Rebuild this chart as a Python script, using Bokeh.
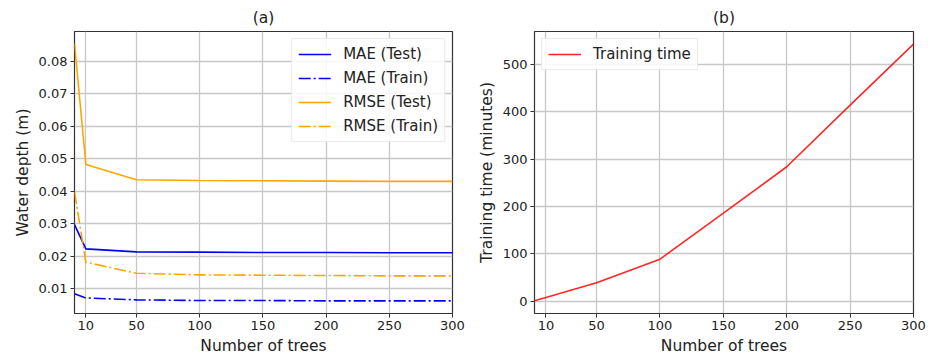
from bokeh.plotting import figure
from bokeh.layouts import row
from bokeh.models import FixedTicker, Range1d, Legend, LegendItem
from bokeh.embed import file_html
from bokeh.resources import INLINE

trees = [1, 10, 50, 100, 150, 200, 250, 300]
mae_test = [0.0297, 0.0222, 0.0213, 0.0212, 0.0211, 0.0211, 0.0210, 0.0210]
mae_train = [0.0084, 0.0071, 0.0065, 0.0063, 0.0063, 0.0062, 0.0062, 0.0062]
rmse_test = [0.0855, 0.0482, 0.0435, 0.0433, 0.0432, 0.0431, 0.0430, 0.0430]
rmse_train = [0.0397, 0.0181, 0.0147, 0.0142, 0.0141, 0.0140, 0.0139, 0.0139]
train_time = [1, 8, 39, 89, 186, 284, 414, 543]

x_ticks = [10, 50, 100, 150, 200, 250, 300]
y_ticks_a = [0.01, 0.02, 0.03, 0.04, 0.05, 0.06, 0.07, 0.08]
y_ticks_b = [0, 100, 200, 300, 400, 500]

FONT = "DejaVu Sans"
TXT = "#222222"
GRID = "#c8c8c8"
DASHDOT = "12 3 2 3"


def style(p, xlabel, ylabel, yticks, yfmt):
    p.title.text_font = FONT
    p.title.text_font_size = "15.5px"
    p.title.text_font_style = "normal"
    p.title.align = "center"
    p.title.text_color = TXT
    p.outline_line_color = "#333333"
    p.outline_line_width = 1.2
    for ax in (p.xaxis[0], p.yaxis[0]):
        ax.axis_line_color = None
        ax.major_tick_line_color = "#333333"
        ax.major_tick_out = 4
        ax.major_tick_in = 0
        ax.minor_tick_line_color = None
        ax.major_label_text_font = FONT
        ax.major_label_text_font_size = "13px"
        ax.major_label_text_color = TXT
        ax.axis_label_text_font = FONT
        ax.axis_label_text_font_size = "15.5px"
        ax.axis_label_text_font_style = "normal"
        ax.axis_label_text_color = TXT
        ax.major_label_standoff = 3
        ax.axis_label_standoff = 4
    p.xaxis.axis_label = xlabel
    p.yaxis.axis_label = ylabel
    p.xaxis.ticker = FixedTicker(ticks=x_ticks)
    p.yaxis.ticker = FixedTicker(ticks=yticks)
    from bokeh.models import CustomJSTickFormatter
    p.yaxis.formatter = CustomJSTickFormatter(code="return tick.toFixed(%d);" % yfmt)
    p.grid.grid_line_color = GRID
    p.grid.grid_line_width = 1.3


p1 = figure(width=470, height=357, output_backend="svg", toolbar_location=None,
            title="(a)", x_range=Range1d(1, 300), y_range=Range1d(0.0023, 0.0892),
            min_border_left=74, min_border_right=18, min_border_top=31, min_border_bottom=43)
style(p1, "Number of trees", "Water depth (m)", y_ticks_a, 2)

r1 = p1.line(trees, mae_test, line_color="blue", line_width=1.6)
r2 = p1.line(trees, mae_train, line_color="blue", line_width=1.6, line_dash=DASHDOT)
r3 = p1.line(trees, rmse_test, line_color="orange", line_width=1.6)
r4 = p1.line(trees, rmse_train, line_color="orange", line_width=1.6, line_dash=DASHDOT)

leg1 = Legend(items=[LegendItem(label="MAE (Test)", renderers=[r1]),
                     LegendItem(label="MAE (Train)", renderers=[r2]),
                     LegendItem(label="RMSE (Test)", renderers=[r3]),
                     LegendItem(label="RMSE (Train)", renderers=[r4])],
              location="top_right")
p1.add_layout(leg1)

p2 = figure(width=463, height=357, output_backend="svg", toolbar_location=None,
            title="(b)", x_range=Range1d(1, 300), y_range=Range1d(-25.7, 569.5),
            min_border_left=64, min_border_right=20, min_border_top=31, min_border_bottom=43)
style(p2, "Number of trees", "Training time (minutes)", y_ticks_b, 0)
r5 = p2.line(trees, train_time, line_color="red", line_width=1.6, line_alpha=0.85)
leg2 = Legend(items=[LegendItem(label="Training time", renderers=[r5])], location="top_left")
p2.add_layout(leg2)

for lg in (leg1, leg2):
    lg.label_text_font = FONT
    lg.label_text_font_size = "15px"
    lg.label_text_color = TXT
    lg.glyph_width = 33
    lg.glyph_height = 16
    lg.spacing = 6
    lg.padding = 6
    lg.margin = 7
    lg.label_standoff = 12
    lg.border_line_color = "#d8d8d8"
    lg.border_line_width = 1
    lg.background_fill_alpha = 0.85

layout = row(p1, p2)
open("out.html", "w").write(file_html(layout, INLINE))
